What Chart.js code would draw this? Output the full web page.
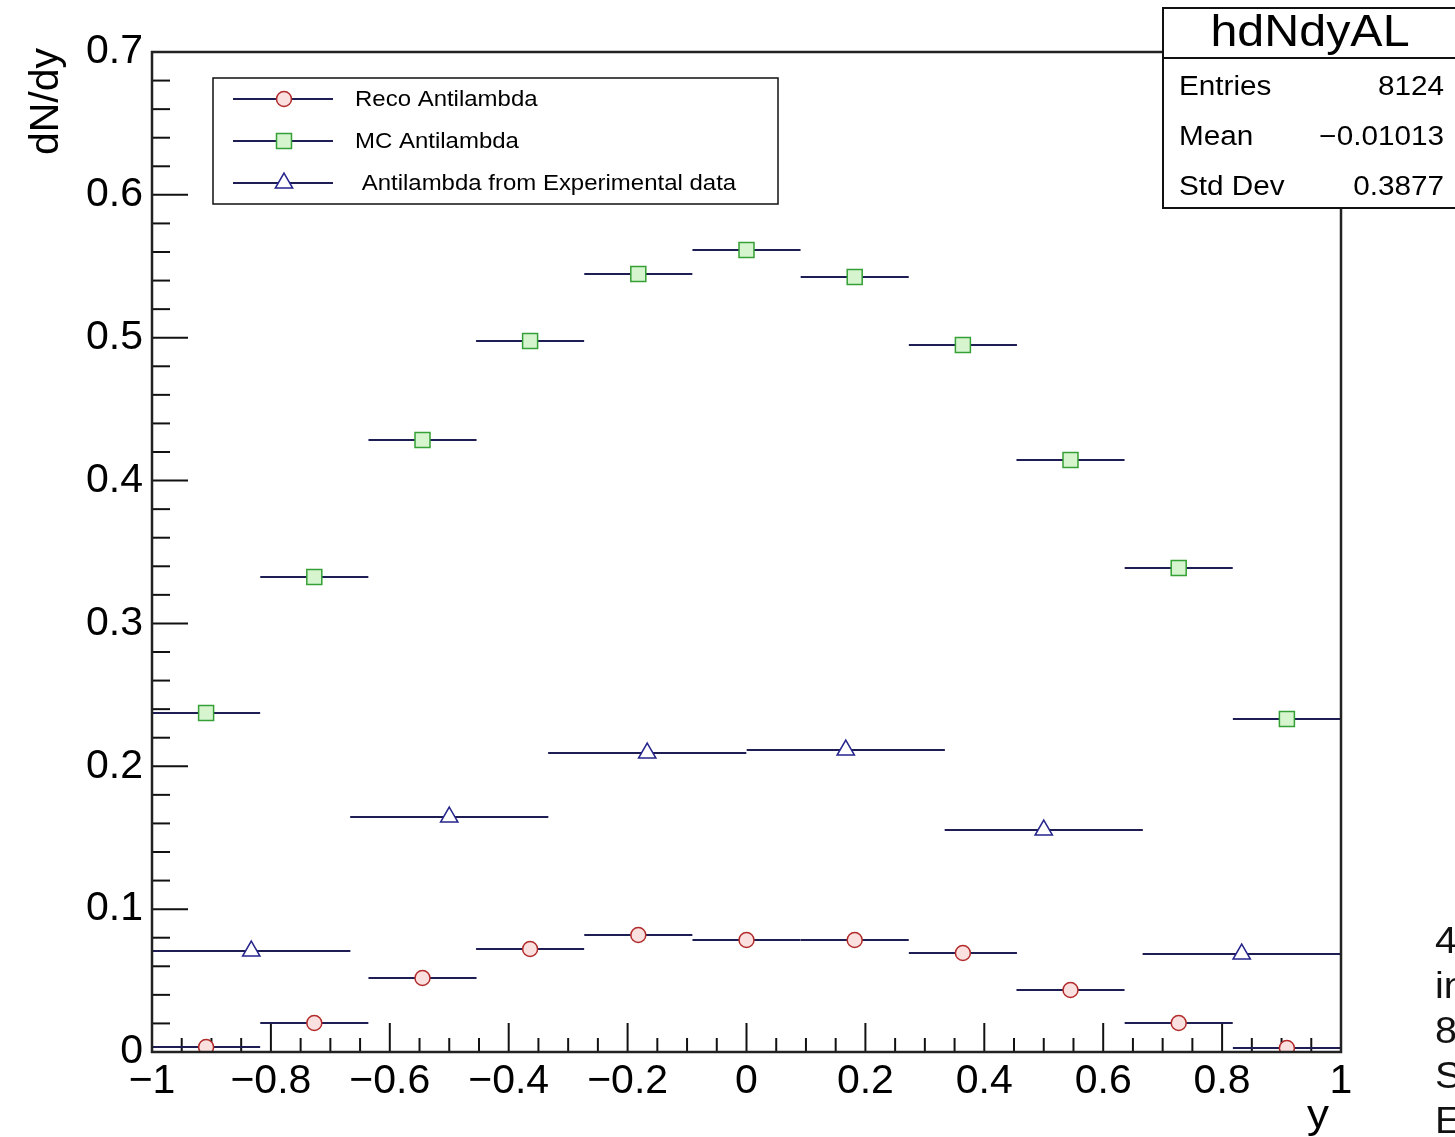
<!DOCTYPE html>
<html>
<head>
<meta charset="utf-8">
<title>hdNdyAL</title>
<script src="https://cdn.jsdelivr.net/npm/chart.js@4.4.1/dist/chart.umd.min.js"></script>
<style>
  html, body { margin: 0; padding: 0; background: #fff; }
  #wrap { position: relative; width: 1455px; height: 1137px; overflow: hidden; }
</style>
</head>
<body>
<div id="wrap"><canvas id="dndy" width="1455" height="1137"></canvas></div>
<script>
// rapidity bins: 11 bins for reco / MC, 6 bins for the measured spectrum
const fineCenters = [-0.909, -0.727, -0.545, -0.364, -0.182, 0, 0.182, 0.364, 0.545, 0.727, 0.909];
const fineHalfWidth = 1 / 11;
const coarseCenters = [-0.833, -0.5, -0.167, 0.167, 0.5, 0.833];
const coarseHalfWidth = 1 / 6;

const recoValues = [0.0035, 0.0203, 0.0518, 0.0721, 0.0819, 0.0784, 0.0784, 0.0693, 0.0434, 0.0203, 0.0028];
const mcValues = [0.2373, 0.3325, 0.4284, 0.4977, 0.5446, 0.5614, 0.5425, 0.4949, 0.4144, 0.3388, 0.2331];
const dataValues = [0.0707, 0.1645, 0.2093, 0.2114, 0.1554, 0.0686];

const seriesLabels = ['Reco Antilambda', 'MC Antilambda', ' Antilambda from Experimental data'];

const statsTitle = 'hdNdyAL';
const statsNames = ['Entries', 'Mean', 'Std Dev'];
const statsValues = ['8124', '\u22120.01013', '0.3877'];
const sideText = ['4', 'in', '8', 'S', 'E'];

const xTitle = 'y';
const yTitle = 'dN/dy';

const FONT = '"Liberation Sans", Arial, Helvetica, sans-serif';
const binColor = '#1e1e55';

function toPoints(centers, values) {
  return centers.map((x, i) => ({ x: x, y: values[i] }));
}

function fmtTick(v) {
  const r = Math.round(v * 10) / 10;
  if (r === 0) return '0';
  const s = Math.abs(r) === 1 ? '1' : Math.abs(r).toFixed(1);
  return r < 0 ? '\u2212' + s : s;
}

// text is drawn a bit wider than the font, like the ROOT export
function wideText(ctx, str, x, y, size, align) {
  ctx.save();
  ctx.font = size + 'px ' + FONT;
  ctx.textAlign = align;
  ctx.textBaseline = 'alphabetic';
  ctx.translate(x, y);
  ctx.scale(1.1, 1);
  ctx.fillText(str, 0, 0);
  ctx.restore();
}

function marker(ctx, style, x, y, r, fill, stroke) {
  ctx.save();
  ctx.beginPath();
  if (style === 'circle') {
    ctx.arc(x, y, r, 0, Math.PI * 2);
  } else if (style === 'rect') {
    const h = r * Math.SQRT1_2;
    ctx.rect(x - h, y - h, 2 * h, 2 * h);
  } else {
    ctx.moveTo(x, y - r);
    ctx.lineTo(x + r * Math.sin(2 * Math.PI / 3), y + r / 2);
    ctx.lineTo(x - r * Math.sin(2 * Math.PI / 3), y + r / 2);
    ctx.closePath();
  }
  ctx.fillStyle = fill;
  ctx.fill();
  ctx.strokeStyle = stroke;
  ctx.lineWidth = 1.5;
  ctx.stroke();
  ctx.restore();
}

const datasets = [
  {
    label: seriesLabels[0], data: toPoints(fineCenters, recoValues), binHalf: fineHalfWidth,
    pointStyle: 'circle', pointRadius: 7.5, pointBorderWidth: 1.5,
    pointBackgroundColor: '#fbe0e0', pointBorderColor: '#b22a2a'
  },
  {
    label: seriesLabels[1], data: toPoints(fineCenters, mcValues), binHalf: fineHalfWidth,
    pointStyle: 'rect', pointRadius: 10.6, pointBorderWidth: 1.5,
    pointBackgroundColor: '#d6f5cf', pointBorderColor: '#35a035'
  },
  {
    label: seriesLabels[2], data: toPoints(coarseCenters, dataValues), binHalf: coarseHalfWidth,
    pointStyle: 'triangle', pointRadius: 10, pointBorderWidth: 1.5,
    pointBackgroundColor: '#ffffff', pointBorderColor: '#25258c'
  }
];

// horizontal bin-width bars and inward axis ticks, under the markers
const binBars = {
  id: 'binBars',
  beforeDatasetsDraw(chart) {
    const ctx = chart.ctx;
    const xs = chart.scales.x, ys = chart.scales.y;
    const area = chart.chartArea;
    ctx.save();

    ctx.strokeStyle = '#111';
    ctx.lineWidth = 2;
    for (let i = 0; i <= 40; i++) {
      const px = xs.getPixelForValue(-1 + i * 0.05);
      const len = i % 4 === 0 ? 29 : 14;
      ctx.beginPath();
      ctx.moveTo(px, area.bottom);
      ctx.lineTo(px, area.bottom - len);
      ctx.stroke();
    }
    for (let i = 0; i <= 35; i++) {
      const py = ys.getPixelForValue(i * 0.02);
      const len = i % 5 === 0 ? 36 : 18;
      ctx.beginPath();
      ctx.moveTo(area.left, py);
      ctx.lineTo(area.left + len, py);
      ctx.stroke();
    }

    ctx.strokeStyle = binColor;
    ctx.lineWidth = 2;
    chart.data.datasets.forEach(ds => {
      ds.data.forEach(p => {
        const py = ys.getPixelForValue(p.y);
        ctx.beginPath();
        ctx.moveTo(xs.getPixelForValue(p.x - ds.binHalf), py);
        ctx.lineTo(xs.getPixelForValue(p.x + ds.binHalf), py);
        ctx.stroke();
      });
    });
    ctx.restore();
  }
};

// frame, axis titles, legend and stats box
const decorations = {
  id: 'decorations',
  afterDraw(chart) {
    const ctx = chart.ctx;
    const area = chart.chartArea;
    ctx.save();

    ctx.strokeStyle = '#222';
    ctx.lineWidth = 2.5;
    ctx.strokeRect(area.left, area.top, area.right - area.left, area.bottom - area.top);

    ctx.fillStyle = '#000';
    wideText(ctx, xTitle, area.right - 12, 1128, 40, 'right');
    ctx.save();
    ctx.translate(58, area.top - 4);
    ctx.rotate(-Math.PI / 2);
    ctx.font = '41px ' + FONT;
    ctx.textAlign = 'right';
    ctx.fillText(yTitle, 0, 0);
    ctx.restore();

    // legend
    const lx = 213, ly = 78, lw = 565, lh = 126;
    ctx.fillStyle = '#fff';
    ctx.fillRect(lx, ly, lw, lh);
    ctx.strokeStyle = '#111';
    ctx.lineWidth = 1.5;
    ctx.strokeRect(lx, ly, lw, lh);
    chart.data.datasets.forEach((ds, i) => {
      const cy = 99 + i * 42;
      ctx.strokeStyle = binColor;
      ctx.lineWidth = 2;
      ctx.beginPath();
      ctx.moveTo(233, cy);
      ctx.lineTo(333, cy);
      ctx.stroke();
      marker(ctx, ds.pointStyle, 284, cy, ds.pointRadius, ds.pointBackgroundColor, ds.pointBorderColor);
      ctx.fillStyle = '#000';
      wideText(ctx, ds.label, 355, cy + 7, 21.8, 'left');
    });

    // stats box
    ctx.fillStyle = '#fff';
    ctx.fillRect(1163, 8, 320, 200);
    ctx.strokeStyle = '#111';
    ctx.lineWidth = 2;
    ctx.strokeRect(1163, 8, 320, 200);
    ctx.beginPath();
    ctx.moveTo(1163, 58);
    ctx.lineTo(1483, 58);
    ctx.stroke();
    ctx.fillStyle = '#000';
    wideText(ctx, statsTitle, 1310, 46, 44, 'center');
    statsNames.forEach((name, i) => {
      const by = 95 + i * 50;
      wideText(ctx, name, 1179, by, 27, 'left');
      wideText(ctx, statsValues[i], 1444, by, 27, 'right');
    });

    ctx.fillStyle = '#111';
    sideText.forEach((t, i) => {
      wideText(ctx, t, 1435, 953 + i * 45, 36, 'left');
    });
    ctx.restore();
  }
};

const tickFont = { family: FONT, size: 41 };

new Chart(document.getElementById('dndy').getContext('2d'), {
  type: 'scatter',
  data: { datasets: datasets },
  options: {
    responsive: false,
    animation: false,
    layout: { padding: { top: 52, right: 114, left: 0, bottom: 0 } },
    plugins: { legend: { display: false }, tooltip: { enabled: false } },
    scales: {
      x: {
        type: 'linear', min: -1, max: 1,
        grid: { display: false, drawTicks: false },
        border: { display: false },
        ticks: { stepSize: 0.2, padding: 5, color: '#000', font: tickFont, maxRotation: 0, autoSkip: false, callback: fmtTick },
        afterFit(scale) { scale.height = 85; }
      },
      y: {
        type: 'linear', min: 0, max: 0.7,
        grid: { display: false, drawTicks: false },
        border: { display: false },
        ticks: { stepSize: 0.1, padding: 9, color: '#000', font: tickFont, callback: fmtTick },
        afterFit(scale) { scale.width = 152; }
      }
    }
  },
  plugins: [binBars, decorations]
});
</script>
</body>
</html>
